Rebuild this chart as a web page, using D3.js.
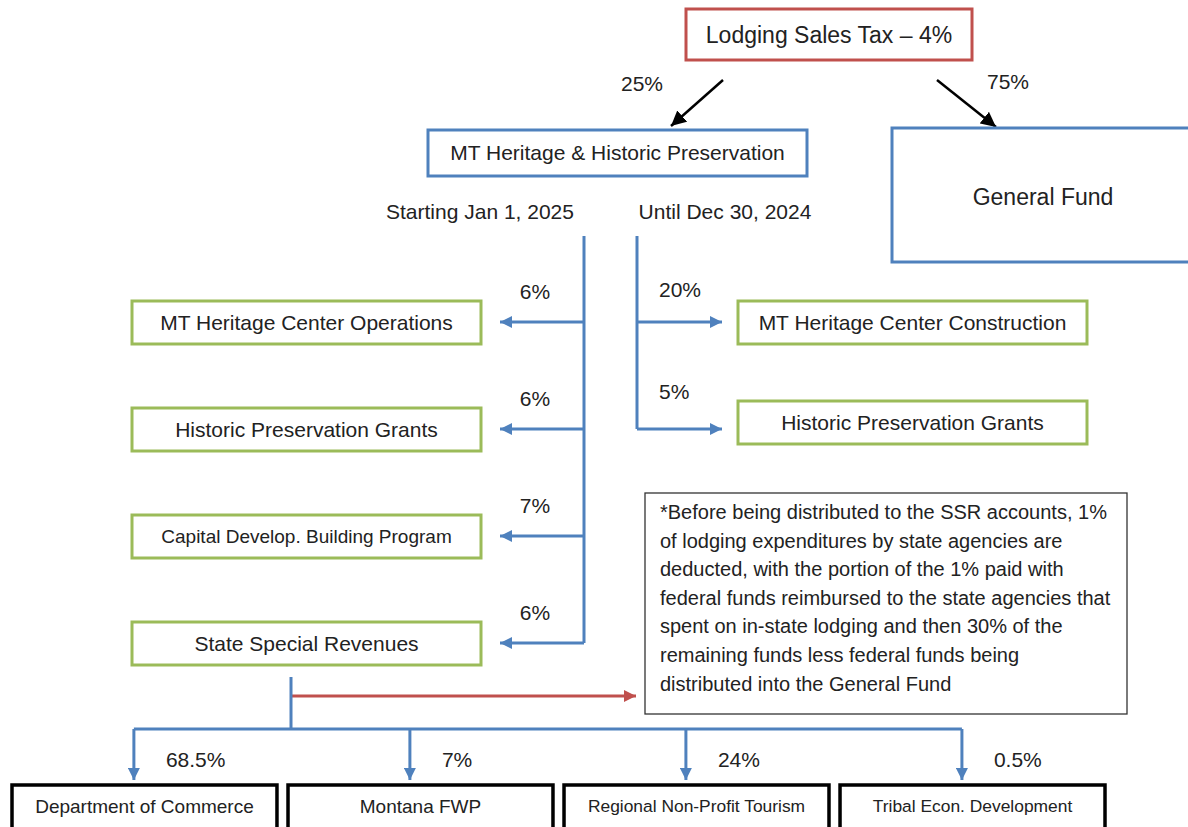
<!DOCTYPE html>
<html>
<head>
<meta charset="utf-8">
<script src="https://cdn.jsdelivr.net/npm/d3@7"></script>
<style>
    body { margin: 0; background: #fff; }
    svg { display: block; font-family: 'Liberation Sans', Arial, sans-serif; }
</style>
</head>
<body>
<svg id="drawing_region"></svg>
<script>
// values
const source = 'Lodging Sales Tax – 4%';
const topTargets = ['MT Heritage & Historic Preservation', 'General Fund'];
const topShares = ['25%', '75%'];
const periods = ['Starting Jan 1, 2025', 'Until Dec 30, 2024'];

const leftTargets = ['MT Heritage Center Operations', 'Historic Preservation Grants',
    'Capital Develop. Building Program', 'State Special Revenues'];
const leftShares = ['6%', '6%', '7%', '6%'];

const rightTargets = ['MT Heritage Center Construction', 'Historic Preservation Grants'];
const rightShares = ['20%', '5%'];

const ssrTargets = ['Department of Commerce', 'Montana FWP', 'Regional Non-Profit Tourism', 'Tribal Econ. Development'];
const ssrShares = ['68.5%', '7%', '24%', '0.5%'];

const noteLines = [
    '*Before being distributed to the SSR accounts, 1%',
    'of lodging expenditures by state agencies are',
    'deducted, with the portion of the 1% paid with',
    'federal funds reimbursed to the state agencies that',
    'spent on in-state lodging and then 30% of the',
    'remaining funds less federal funds being',
    'distributed into the General Fund'
];

class FlowChart {

    constructor(config) {
        this.config = {
            parent: config.parent,
            width: config.width || 1188,
            height: config.height || 827
        }
        this.init();
    }

    init() {
        let self = this;

        self.svg = d3.select(self.config.parent)
            .attr('width', self.config.width)
            .attr('height', self.config.height);

        self.blue = '#4f81bd';
        self.red = '#c0504d';
        self.green = '#9bbb59';
        self.ink = '#222';

        const defs = self.svg.append('defs');
        const marker = (id, color, size) => {
            defs.append('marker')
                .attr('id', id)
                .attr('markerUnits', 'userSpaceOnUse')
                .attr('viewBox', '0 0 10 10')
                .attr('refX', 10)
                .attr('refY', 5)
                .attr('markerWidth', size)
                .attr('markerHeight', size)
                .attr('orient', 'auto')
                .append('path')
                .attr('d', 'M0,0 L10,5 L0,10 z')
                .attr('fill', color);
        };
        marker('head-blue', self.blue, 12);
        marker('head-red', self.red, 12);
        marker('head-black', '#000', 15);

        // rows of the two branches share one vertical scale
        self.yrow = d3.scalePoint()
            .domain(d3.range(leftTargets.length))
            .range([322, 643]);

        self.xband = d3.scaleBand()
            .domain(ssrTargets)
            .range([12, 1105])
            .paddingInner(0.04);

        self.xtop = d3.scalePoint()
            .domain(topTargets)
            .range([617, 1043]);
    }

    box(x, y, w, h, color, sw, label, size) {
        let self = this;
        self.svg.append('rect')
            .attr('x', x).attr('y', y)
            .attr('width', w).attr('height', h)
            .attr('fill', '#fff')
            .attr('stroke', color)
            .attr('stroke-width', sw);
        if (label) self.text(x + w / 2, y + h / 2, label, size, 'middle');
    }

    text(x, y, label, size, anchor) {
        this.svg.append('text')
            .attr('x', x).attr('y', y)
            .attr('dy', '0.35em')
            .attr('text-anchor', anchor || 'middle')
            .style('font-size', size + 'px')
            .attr('fill', this.ink)
            .text(label);
    }

    line(points, color, head) {
        const path = this.svg.append('path')
            .attr('d', d3.line()(points))
            .attr('fill', 'none')
            .attr('stroke', color)
            .attr('stroke-width', color === '#000' ? 2.5 : 3);
        if (head) path.attr('marker-end', `url(#${head})`);
    }

    render() {
        let self = this;

        // source and first split
        self.box(686, 9, 286, 51, self.red, 3, source, 23);
        self.line([[723, 80], [671, 126]], '#000', 'head-black');
        self.line([[937, 80], [996, 127]], '#000', 'head-black');
        self.text(642, 84, topShares[0], 21);
        self.text(1008, 82, topShares[1], 21);

        self.box(428, 130, 379, 46, self.blue, 3, topTargets[0], 21);
        self.box(892, 128, 320, 134, self.blue, 3, '', 23);
        self.text(self.xtop(topTargets[1]), 197, topTargets[1], 23);

        self.text(480, 212, periods[0], 21);
        self.text(725, 212, periods[1], 21);

        // left branch: starting Jan 1, 2025
        const spineL = 584;
        const lastL = self.yrow(leftTargets.length - 1);
        self.line([[spineL, 236], [spineL, lastL]], self.blue);
        leftTargets.forEach((d, i) => {
            const y = self.yrow(i);
            const sw = i === 2 ? 19 : 21;
            self.box(132, y - 21, 349, 43, self.green, 3, d, sw);
            self.line([[spineL, y], [500, y]], self.blue, 'head-blue');
            self.text(535, y - 30, leftShares[i], 21);
        });

        // right branch: until Dec 30, 2024
        const spineR = 637;
        self.line([[spineR, 236], [spineR, self.yrow(rightTargets.length - 1)]], self.blue);
        rightTargets.forEach((d, i) => {
            const y = self.yrow(i);
            self.box(738, y - 21 - i * 7, 349, 43, self.green, 3, d, 21);
            self.line([[spineR, y], [722, y]], self.blue, 'head-blue');
            self.text(659, y - 32 - i * 5, rightShares[i], 21, 'start');
        });

        // footnote
        self.svg.append('rect')
            .attr('x', 645).attr('y', 493)
            .attr('width', 482).attr('height', 221)
            .attr('fill', '#fff')
            .attr('stroke', '#333')
            .attr('stroke-width', 1.3);
        noteLines.forEach((d, i) => {
            self.text(660, 512 + i * 28.6, d, 20, 'start');
        });

        // state special revenues split
        const stemX = 291;
        const busY = 729;
        self.line([[stemX, 696], [636, 696]], self.red, 'head-red');
        const drops = ssrTargets.map(d => self.xband(d) + self.xband.bandwidth() * 0.46);
        self.line([[drops[0], busY], [drops[drops.length - 1], busY]], self.blue);
        self.line([[stemX, 677], [stemX, busY]], self.blue);
        ssrTargets.forEach((d, i) => {
            self.line([[drops[i], busY], [drops[i], 780]], self.blue, 'head-blue');
            self.text(drops[i] + 32, 760, ssrShares[i], 21, 'start');
            const x = self.xband(d);
            self.box(x, 785, self.xband.bandwidth(), 50, '#000', 3.5, '', 18);
            self.text(x + self.xband.bandwidth() / 2, 806, d, i < 2 ? 19 : 17.4);
        });
    }
}

const chart = new FlowChart({ parent: '#drawing_region', width: 1188, height: 827 });
chart.render();
</script>
</body>
</html>
